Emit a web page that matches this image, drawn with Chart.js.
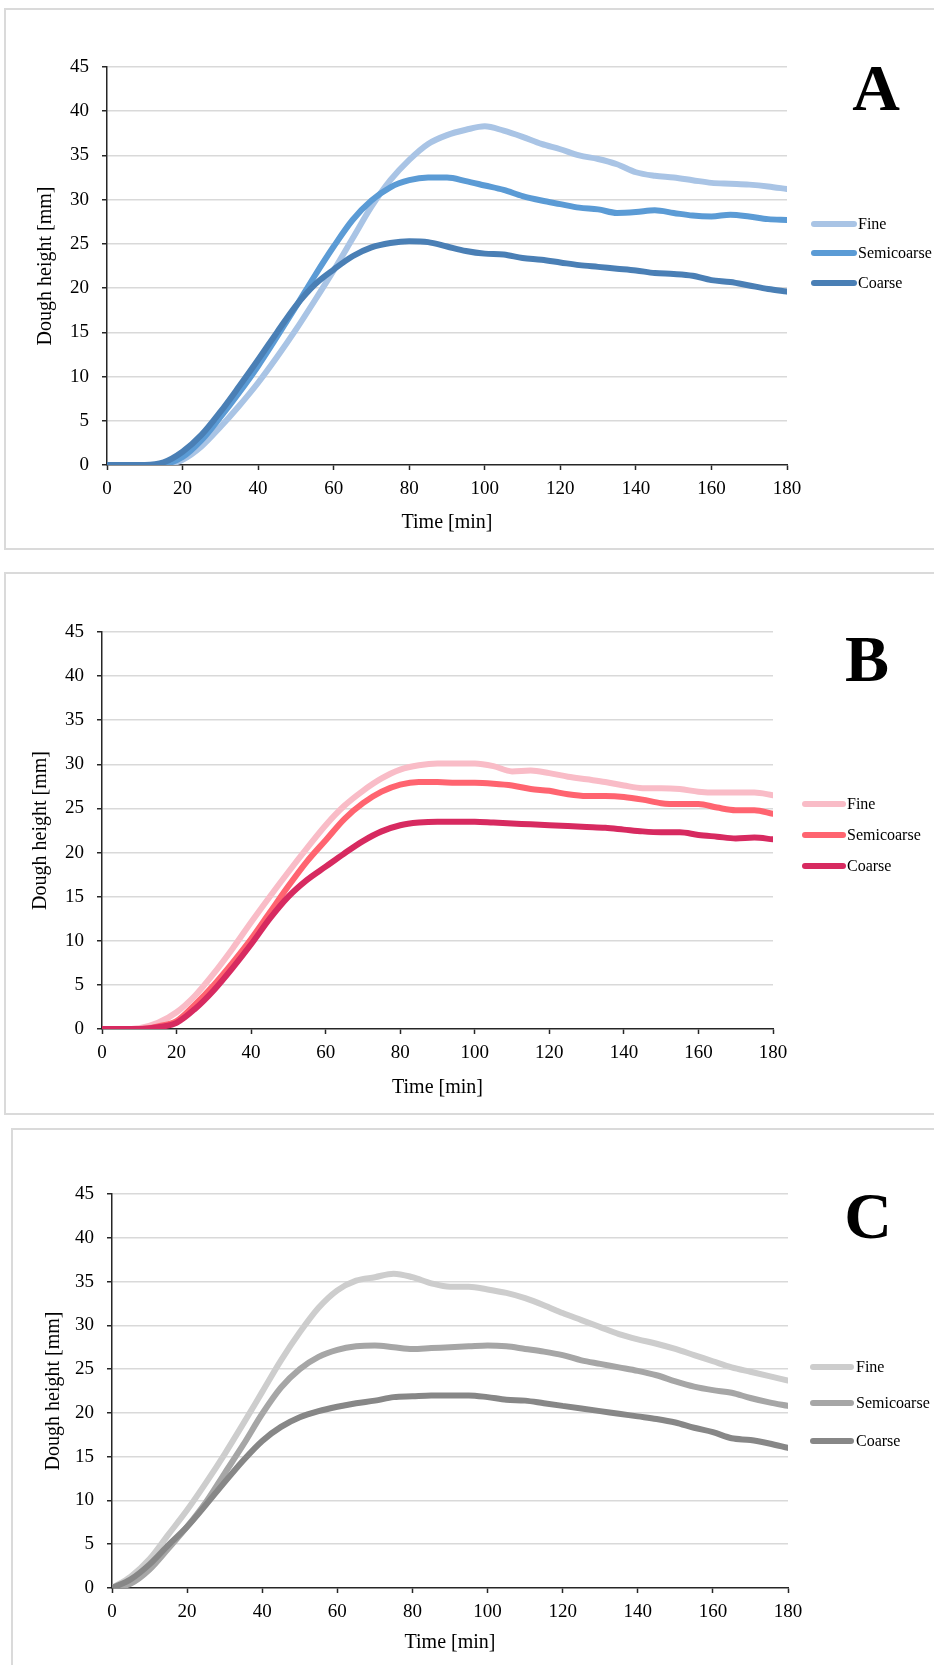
<!DOCTYPE html>
<html><head><meta charset="utf-8">
<script src="https://cdn.jsdelivr.net/npm/chart.js@4.4.1/dist/chart.umd.min.js"></script>
<style>
html,body{margin:0;padding:0;background:#fff;width:934px;height:1665px;overflow:hidden;position:relative}
.box{position:absolute;border:2px solid #dadada;box-sizing:border-box}
canvas{position:absolute;left:0}
</style></head><body>
<div class="box" style="left:4px;top:8px;width:1000px;height:542px"></div>
<div class="box" style="left:4px;top:572px;width:1000px;height:543px"></div>
<div class="box" style="left:11px;top:1128px;width:1000px;height:600px"></div>
<canvas id="cA" width="934" height="560" style="top:0"></canvas>
<canvas id="cB" width="934" height="560" style="top:560px"></canvas>
<canvas id="cC" width="934" height="555" style="top:1110px"></canvas>
<script>
// ---- data (Time in minutes, Dough height in mm) ----
const times = [0,5,10,15,20,25,30,35,40,45,50,55,60,65,70,75,80,85,90,95,100,105,110,115,120,125,130,135,140,145,150,155,160,165,170,175,180];
const seriesNames = ['Fine','Semicoarse','Coarse'];
const xTicks = [0,20,40,60,80,100,120,140,160,180];
const yTicks = [0,5,10,15,20,25,30,35,40,45];
const xTitle = 'Time [min]';
const yTitle = 'Dough height [mm]';

const fineA   = [0,0,0,0,0.6,2.1,4.3,6.7,9.3,12.2,15.3,18.6,22.0,25.6,29.2,32.2,34.5,36.3,37.3,37.9,38.3,37.8,37.1,36.3,35.7,35.0,34.6,34.0,33.1,32.7,32.5,32.2,31.9,31.8,31.7,31.5,31.2];
const semiA   = [0,0,0,0.1,0.9,2.8,5.4,8.2,11.2,14.5,17.9,21.4,24.7,27.7,29.9,31.4,32.2,32.5,32.5,32.1,31.6,31.1,30.4,29.9,29.5,29.1,28.9,28.5,28.6,28.8,28.5,28.2,28.1,28.3,28.1,27.8,27.7];
const coarseA = [0,0,0,0.3,1.5,3.4,6.0,8.9,11.9,15.0,18.0,20.4,22.1,23.6,24.6,25.1,25.3,25.2,24.7,24.2,23.9,23.8,23.4,23.2,22.9,22.6,22.4,22.2,22.0,21.7,21.6,21.4,20.9,20.7,20.3,19.9,19.6];

const fineB   = [0,0,0.1,0.7,1.9,3.8,6.3,9.1,12.1,15.0,17.8,20.5,23.1,25.3,27.0,28.4,29.4,29.9,30.1,30.1,30.1,29.8,29.2,29.3,29.0,28.6,28.3,28.0,27.6,27.3,27.3,27.2,26.9,26.8,26.8,26.8,26.5];
const semiB   = [0,0,0,0.3,0.9,2.8,5.0,7.5,10.2,13.2,16.2,19.0,21.4,23.8,25.6,26.9,27.7,28.0,28.0,27.9,27.9,27.8,27.6,27.2,27.0,26.6,26.4,26.4,26.3,26.0,25.6,25.5,25.5,25.1,24.8,24.8,24.4];
const coarseB = [0,0,0,0.2,0.7,2.3,4.4,6.9,9.6,12.5,15.0,16.9,18.4,19.9,21.3,22.4,23.1,23.4,23.5,23.5,23.5,23.4,23.3,23.2,23.1,23.0,22.9,22.8,22.6,22.4,22.3,22.3,22.0,21.8,21.6,21.7,21.5];

const fineC   = [0,1.3,3.3,6.1,8.9,12.0,15.3,18.8,22.4,26.0,29.2,32.0,34.0,35.1,35.5,35.9,35.5,34.8,34.4,34.4,34.1,33.7,33.1,32.3,31.4,30.6,29.8,29.0,28.4,27.9,27.3,26.6,25.9,25.2,24.7,24.2,23.7];
const semiC   = [0,0.5,2.1,4.5,7.0,9.8,13.1,16.4,19.9,22.9,25.0,26.4,27.2,27.6,27.7,27.5,27.3,27.4,27.5,27.6,27.7,27.6,27.3,27.0,26.6,26.0,25.6,25.2,24.8,24.3,23.6,23.0,22.6,22.3,21.7,21.2,20.8];
const coarseC = [0,1.0,2.7,4.9,7.0,9.5,12.1,14.6,16.8,18.4,19.5,20.2,20.7,21.1,21.4,21.8,21.9,22.0,22.0,22.0,21.8,21.5,21.4,21.1,20.8,20.5,20.2,19.9,19.6,19.3,18.9,18.3,17.8,17.1,16.9,16.5,16.0];

const colorsA = ['#a9c4e5','#5b9bd5','#4a7fb5'];
const colorsB = ['#f9bcc7','#ff6470','#d72a60'];
const colorsC = ['#cdcdcd','#a6a6a6','#878787'];

const SERIF = '"Liberation Serif", "Times New Roman", serif';

function makeChart(id, values, colors, L) {
  const datasets = values.map((vals, i) => ({
    label: seriesNames[i],
    data: times.map((t, k) => ({x: t, y: vals[k]})),
    borderColor: colors[i],
    backgroundColor: colors[i],
    borderWidth: 6,
    borderCapStyle: 'round',
    borderJoinStyle: 'round',
    pointRadius: 0,
    cubicInterpolationMode: 'monotone',
    fill: false,
    order: 2 - i
  }));
  const decor = {
    id: 'decor',
    afterDraw(chart) {
      const ctx = chart.ctx;
      ctx.save();
      chart.data.datasets.forEach((ds, i) => {
        const y = L.legendY[i];
        ctx.strokeStyle = ds.borderColor;
        ctx.lineWidth = 6;
        ctx.lineCap = 'round';
        ctx.beginPath();
        ctx.moveTo(L.legX1, y);
        ctx.lineTo(L.legX2, y);
        ctx.stroke();
        ctx.fillStyle = '#000';
        ctx.font = '16px ' + SERIF;
        ctx.textAlign = 'left';
        ctx.textBaseline = 'middle';
        ctx.fillText(ds.label, L.legTX, y + 1);
      });
      ctx.font = 'bold 66px ' + SERIF;
      ctx.textAlign = 'center';
      ctx.textBaseline = 'alphabetic';
      ctx.fillStyle = '#000';
      ctx.fillText(L.letter, L.letterX, L.letterY);
      ctx.restore();
    }
  };
  return new Chart(document.getElementById(id), {
    type: 'line',
    data: {datasets},
    plugins: [decor],
    options: {
      responsive: false,
      animation: false,
      events: [],
      layout: {padding: {left: 0, top: L.top, right: 934 - L.right, bottom: 0}},
      plugins: {legend: {display: false}, tooltip: {enabled: false}},
      scales: {
        x: {
          type: 'linear', min: 0, max: 180,
          afterBuildTicks: s => { s.ticks = xTicks.map(v => ({value: v})); },
          afterFit: s => { s.height = L.canvasH - L.bottom; },
          grid: {drawOnChartArea: false, drawTicks: true, tickLength: 5, tickColor: '#262626', tickWidth: 1.5},
          border: {display: true, color: '#262626', width: 1.5},
          ticks: {font: {family: SERIF, size: 19}, color: '#000', padding: 8, maxRotation: 0, autoSkip: false},
          title: {display: true, text: xTitle, font: {family: SERIF, size: 20}, color: '#000', padding: {top: 0, bottom: L.xTitlePad}}
        },
        y: {
          min: 0, max: 45,
          afterBuildTicks: s => { s.ticks = yTicks.map(v => ({value: v})); },
          afterFit: s => { s.width = L.left; },
          grid: {color: c => (c.tick && c.tick.value === 0) ? 'rgba(0,0,0,0)' : '#d9d9d9', lineWidth: 1.5, drawTicks: true, tickLength: 5, tickColor: '#262626', tickWidth: 1.5},
          border: {display: true, color: '#262626', width: 1.5},
          ticks: {font: {family: SERIF, size: 19}, color: '#000', padding: 13, autoSkip: false},
          title: {display: true, text: yTitle, font: {family: SERIF, size: 20}, color: '#000', padding: {top: L.yTitlePad, bottom: 0}}
        }
      }
    }
  });
}

makeChart('cA', [fineA, semiA, coarseA], colorsA, {
  canvasH: 560, left: 107, right: 787, top: 67, bottom: 465,
  xTitlePad: 25, yTitlePad: 33.5,
  legendY: [224, 253, 283], legX1: 814, legX2: 854, legTX: 858,
  letter: 'A', letterX: 876, letterY: 110
});
makeChart('cB', [fineB, semiB, coarseB], colorsB, {
  canvasH: 560, left: 102, right: 773, top: 72, bottom: 469,
  xTitlePad: 20, yTitlePad: 28.5,
  legendY: [244, 275, 306], legX1: 805, legX2: 843, legTX: 847,
  letter: 'B', letterX: 867, letterY: 121
});
makeChart('cC', [fineC, semiC, coarseC], colorsC, {
  canvasH: 555, left: 112, right: 788, top: 84, bottom: 478,
  xTitlePad: 10, yTitlePad: 41.5,
  legendY: [257, 293, 331], legX1: 813, legX2: 851, legTX: 856,
  letter: 'C', letterX: 868, letterY: 128
});
</script>
</body></html>
